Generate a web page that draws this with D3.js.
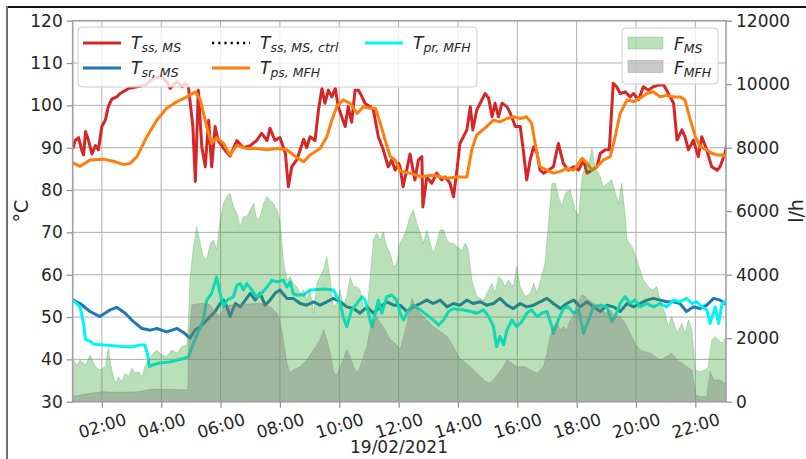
<!DOCTYPE html>
<html>
<head>
<meta charset="utf-8">
<script src="https://cdn.jsdelivr.net/npm/d3@7"></script>
<style>
  body { margin: 0; background: #fff; }
  svg text { font-family: "DejaVu Sans", sans-serif; fill: #262626; }
</style>
</head>
<body>
<svg id="chart" width="806" height="459"></svg>
<script>
// Each series: [minute of the day, value] on 19/02/2021.
// Supply temperature, main station (°C)
const tssMS = [[56,90.1],[62,90],[66,91.7],[73,92.4],[79,89.5],[83,88.3],[87,93.8],[93,91.7],[100,88.5],[107,90.5],[113,89.5],[120,95],[127,96.5],[133,99.7],[140,101.5],[150,102],[157,102.8],[174,104],[191,104.4],[207,104.8],[224,106.4],[241,106.8],[251,105.6],[258,104],[272,105.6],[282,104.4],[288,105.2],[295,104.4],[304,95],[309,82],[315,103.6],[322,90.3],[329,85.5],[336,96.5],[342,85.5],[349,95],[355,91.7],[365,90],[379,88],[393,91.7],[406,90],[420,90.5],[433,91.7],[443,93.4],[454,91.7],[460,94.6],[470,91.7],[480,92.4],[491,88.7],[497,80.8],[504,85.5],[514,87.1],[521,89.5],[528,92],[534,90],[541,92.6],[551,91.7],[558,98.9],[565,104],[571,100.5],[578,103.6],[585,102],[592,104],[598,99.7],[605,97.3],[612,95],[618,99.7],[625,96],[632,103.6],[639,103.6],[646,102],[652,100.5],[662,99.7],[669,98.9],[679,92.6],[689,89.5],[699,85.5],[706,87.1],[713,84.7],[720,86.3],[723,85.5],[729,80.8],[736,84.5],[743,88.5],[753,82.4],[760,87.1],[767,87.9],[769,76],[777,83.1],[787,81.6],[797,84],[807,82.4],[814,83.1],[824,81.6],[831,78.4],[838,84.7],[844,91],[851,92.6],[858,94.2],[865,99.7],[870,94.2],[878,98.9],[885,100.5],[895,102.8],[902,101.7],[909,97.3],[915,100.5],[922,97.3],[929,100.5],[939,99.7],[946,98.1],[956,95],[966,95],[972,89.5],[979,82.4],[986,87.1],[993,90.2],[1000,88.7],[1006,84.7],[1013,84],[1023,84.7],[1033,85.5],[1043,91],[1053,86.3],[1063,84.7],[1074,85.5],[1084,84.7],[1094,87.1],[1101,84],[1111,84.7],[1121,85.5],[1128,88.7],[1138,89.5],[1146,89.5],[1154,105.2],[1161,104.4],[1168,102.8],[1178,103.2],[1188,102],[1195,102.8],[1205,101.3],[1215,104.4],[1225,103.6],[1235,104.4],[1245,104.8],[1256,104.8],[1262,103.6],[1269,102],[1276,100.5],[1283,91.8],[1293,94.2],[1299,92.6],[1306,89.5],[1316,91.8],[1326,87.9],[1333,92.6],[1343,89.5],[1353,85.5],[1364,84.7],[1370,85.5],[1380,88.7],[1387,92.6]];

// Return temperature, main station (°C)
const tsrMS = [[56,54.4],[76,53.2],[96,51.3],[116,50.1],[137,51.7],[150,52.3],[167,50.9],[184,48.9],[201,47.3],[218,46.9],[231,47.3],[251,46.5],[272,47.3],[288,46.1],[298,45],[309,47],[319,47.7],[329,48.9],[339,50.1],[349,51.3],[359,53.2],[366,54],[373,52.4],[379,50.1],[390,53.2],[400,52.4],[410,54],[420,55.6],[430,54],[440,55.6],[450,52.8],[460,54],[470,55.6],[480,56.4],[494,54.4],[507,54.4],[521,53.2],[534,52.8],[548,53.6],[561,52.8],[575,53.6],[588,54.4],[602,53.6],[615,52.4],[629,52],[642,50.9],[656,52.4],[669,50.9],[683,52.4],[696,53.6],[710,52.8],[723,52.8],[737,51.3],[750,52.4],[764,53.2],[777,54],[790,53.2],[804,54],[818,52.4],[831,53.2],[844,52.8],[858,54],[871,53.2],[885,53.6],[898,52.8],[912,53.2],[925,54.4],[939,52.8],[952,52],[966,53.2],[979,52.4],[993,52.8],[1006,53.6],[1020,54.4],[1033,53.2],[1047,52],[1060,53.2],[1074,54],[1087,52.4],[1101,53.6],[1114,52.4],[1128,51.3],[1141,52.8],[1155,52.4],[1168,51.3],[1182,53.2],[1195,52.4],[1208,53.2],[1222,54],[1235,54.4],[1249,54],[1262,53.6],[1276,53.6],[1289,53.2],[1302,51.3],[1316,52.4],[1330,52],[1343,52.8],[1357,54.4],[1370,54],[1384,52.8]];

// Primary supply temperature, MFH substation (°C)
const tpsMFH = [[56,86.7],[76,85.6],[96,87.1],[123,87.3],[143,86.8],[164,86],[177,86.3],[191,87.9],[211,92.6],[231,96.5],[251,99.3],[272,100.9],[292,102],[309,103.2],[319,101.3],[332,95],[342,91],[352,92.4],[366,91],[379,88.3],[393,90.6],[413,89.8],[433,89.8],[454,89.5],[474,89.8],[494,89.5],[514,87.7],[528,86.7],[541,88.3],[561,89.8],[575,92.6],[585,96.5],[595,99.7],[608,101.3],[622,100.5],[636,98.1],[649,99.7],[662,99.3],[673,99.3],[683,95.8],[693,91.7],[703,87.9],[713,87.1],[723,84.5],[743,84],[764,83.2],[790,83.5],[818,82.8],[838,83.1],[858,83.1],[868,89.5],[878,93],[898,95],[912,96.5],[925,96.1],[939,96.9],[952,97.3],[966,96.9],[979,97.3],[989,95.8],[996,91],[1006,85.5],[1020,84.7],[1033,84],[1047,84.4],[1060,85.1],[1074,84.7],[1091,87.5],[1101,86.3],[1111,84.7],[1121,85.5],[1134,87.1],[1148,87.9],[1158,92.6],[1168,98.1],[1182,101.3],[1195,100.9],[1208,101.7],[1222,102.8],[1235,103.2],[1249,102],[1262,102.4],[1276,102],[1289,102],[1299,101.3],[1310,96.5],[1320,92.6],[1330,90.2],[1343,89.5],[1353,88.7],[1364,88.3],[1377,88.3],[1387,87.1]];

// Primary return temperature, MFH substation (°C)
const tprMFH = [[56,54],[66,53.5],[76,52.4],[83,48.5],[87,44.6],[96,44.3],[103,43.6],[123,43.4],[143,43.2],[164,43],[184,43],[197,43.4],[207,43.4],[212,41.4],[216,38.3],[221,38.6],[238,39.2],[258,39.4],[272,39.8],[285,40.2],[295,40.6],[305,43.8],[315,46.5],[325,49.3],[332,54],[342,55.6],[352,59.5],[359,55.6],[366,52.4],[373,54],[386,54.8],[393,57.5],[400,57.9],[406,56.4],[413,57.9],[423,56.4],[433,54.8],[443,55.6],[454,57.1],[464,58.7],[474,58.3],[487,58.7],[494,57.1],[501,58.3],[507,55.5],[514,55.2],[528,55.2],[541,56.4],[568,56.6],[588,56.4],[595,54.8],[602,53.2],[608,50.1],[615,47.7],[625,51.7],[636,53.2],[646,54.8],[652,54],[659,50.9],[666,47.7],[673,50.9],[679,54],[686,50.9],[696,54.8],[706,55.2],[716,54],[723,50.9],[730,49.3],[740,51.7],[750,52.8],[764,51.7],[777,50.5],[790,49.3],[801,48.1],[811,49.3],[821,51.3],[831,52],[841,51.7],[851,51.7],[865,51.3],[878,50.9],[892,51.7],[902,50.1],[912,47.7],[918,43],[925,45.4],[932,43.4],[939,46.9],[949,49.3],[959,47.7],[969,48.9],[979,50.9],[989,51.7],[1000,50.1],[1009,50.9],[1020,51.3],[1030,47.7],[1033,46.1],[1043,49.3],[1053,52],[1063,52.4],[1074,50.9],[1084,51.7],[1094,46.1],[1104,49.3],[1114,52.4],[1128,52.8],[1141,52.4],[1151,48.9],[1158,50.1],[1168,53.2],[1178,54.8],[1188,53.2],[1198,54],[1208,52.4],[1222,53.2],[1235,52.4],[1249,53.2],[1262,52.4],[1276,54],[1289,53.6],[1302,54.4],[1313,53.2],[1323,53.6],[1333,52.4],[1343,51.7],[1350,48.5],[1360,52.4],[1367,48.5],[1374,53.2],[1384,54]];

// Flow, main station (l/h)
const fMS = [[56,1200],[62,1313],[69,1155],[76,1313],[87,1155],[96,1471],[107,1103],[116,1000],[127,1103],[133,1682],[140,1000],[147,580],[154,788],[160,630],[167,895],[174,790],[181,1052],[187,895],[194,950],[201,790],[207,1103],[214,1313],[224,1523],[231,1628],[241,1470],[251,1418],[261,1628],[272,1523],[282,1733],[292,1785],[295,2500],[298,3833],[305,4883],[312,5513],[319,4990],[325,4568],[332,4463],[339,4990],[346,5094],[352,4778],[359,5724],[366,6250],[373,6460],[379,6565],[386,6145],[393,5933],[400,5513],[406,5828],[413,5828],[420,6040],[427,6250],[433,5724],[440,5828],[447,6250],[454,6458],[460,6355],[467,6250],[474,6040],[480,5724],[487,4463],[494,3833],[501,3938],[507,3728],[514,3623],[521,3413],[528,3518],[534,3203],[541,3518],[548,2785],[555,3728],[561,3938],[568,4148],[575,4568],[582,3833],[588,2995],[595,3100],[602,3518],[608,2995],[615,3308],[622,3938],[629,3623],[636,3623],[642,3518],[649,2995],[656,2890],[662,3833],[669,5094],[676,5304],[683,5094],[689,5355],[696,4883],[703,4673],[710,4253],[716,4358],[723,5000],[733,5300],[743,5828],[750,6039],[757,5620],[764,5304],[770,4990],[777,5409],[784,4990],[790,4675],[797,5000],[804,5409],[811,5409],[818,5094],[824,4990],[831,4990],[838,4883],[848,4778],[855,4990],[861,4778],[868,3833],[878,3308],[892,3203],[902,3518],[909,3728],[915,3413],[922,3938],[929,3833],[935,3623],[942,3833],[952,3623],[959,4253],[966,3623],[976,3308],[986,3413],[993,3728],[1000,3413],[1009,3938],[1016,4358],[1023,5618],[1030,6880],[1037,6880],[1043,6458],[1050,6145],[1057,6565],[1067,6670],[1077,6040],[1084,5830],[1091,7088],[1097,7403],[1104,7450],[1111,7982],[1117,7403],[1128,7088],[1134,6773],[1144,6900],[1151,6990],[1158,6565],[1165,6250],[1171,6880],[1176,6200],[1182,5094],[1192,4883],[1202,4463],[1208,4149],[1215,3833],[1225,3623],[1233,3520],[1242,3623],[1249,3203],[1259,2785],[1265,2363],[1272,2680],[1283,2155],[1293,2470],[1299,2155],[1306,2575],[1313,2260],[1320,1000],[1330,945],[1340,1000],[1346,1103],[1353,1944],[1360,2050],[1367,1944],[1374,1840],[1380,1995],[1386,1900]];

// Flow, MFH substation (l/h)
const fMFH = [[56,158],[76,210],[96,264],[123,316],[154,290],[194,316],[218,390],[258,390],[292,369],[294,369],[295,1733],[302,3046],[312,3077],[325,3100],[339,3046],[352,2785],[359,2678],[366,2965],[379,3046],[393,3046],[406,3077],[420,3077],[433,3100],[447,3077],[460,3000],[474,2785],[480,2575],[487,1944],[494,1210],[501,895],[507,1000],[521,1103],[534,1313],[548,1629],[561,1944],[568,2259],[575,1944],[582,1523],[588,945],[595,841],[602,1103],[608,1313],[615,1629],[622,1418],[629,1103],[636,895],[642,1103],[649,1418],[656,1733],[662,2259],[669,2470],[676,2680],[683,2470],[689,2365],[696,2155],[703,1944],[713,1838],[723,1629],[737,2470],[747,3257],[753,3000],[764,2785],[777,2575],[790,2363],[804,2208],[818,2050],[831,1733],[841,1418],[848,1313],[865,1103],[878,895],[892,684],[902,580],[912,684],[922,895],[932,1103],[939,1313],[949,1208],[959,1103],[976,1103],[986,1000],[1000,895],[1013,1103],[1020,1523],[1026,2049],[1033,2365],[1040,2470],[1047,2259],[1053,2365],[1060,2259],[1067,2575],[1074,2680],[1080,3100],[1091,3361],[1097,3308],[1104,3203],[1114,3100],[1128,2995],[1138,2785],[1148,2890],[1158,2680],[1168,2680],[1178,2470],[1188,2155],[1198,1838],[1208,1629],[1218,1576],[1229,1523],[1239,1418],[1249,1313],[1262,1418],[1272,1523],[1283,1313],[1293,1208],[1302,1103],[1313,1000],[1320,211],[1330,158],[1343,158],[1350,945],[1357,684],[1370,684],[1380,580],[1387,580]];

const timeSpan = ["01:01", "23:02"];
const timeTicks = ["02:00","04:00","06:00","08:00","10:00","12:00","14:00","16:00","18:00","20:00","22:00"];
const tempTicks = [30, 40, 50, 60, 70, 80, 90, 100, 110, 120];
const flowTicks = [0, 2000, 4000, 6000, 8000, 10000, 12000];
const dateLabel = "19/02/2021";

const lineLegend = [
  { key: "tss",  base: "T", sub: "ss, MS" },
  { key: "tsr",  base: "T", sub: "sr, MS" },
  { key: "ctrl", base: "T", sub: "ss, MS, ctrl" },
  { key: "tps",  base: "T", sub: "ps, MFH" },
  { key: "tpr",  base: "T", sub: "pr, MFH" }
];
const areaLegend = [
  { key: "fms",  base: "F", sub: "MS" },
  { key: "fmfh", base: "F", sub: "MFH" }
];

// ---- drawing ----
const style = {
  tss:  { stroke: "#d62728" },
  tsr:  { stroke: "#1f77b4" },
  ctrl: { stroke: "#000000", dash: "2.2,4" },
  tps:  { stroke: "#ff7f0e" },
  tpr:  { stroke: "#00f5f5" },
  fms:  { fill: "#2ca02c", alpha: 0.33 },
  fmfh: { fill: "#7f7f7f", alpha: 0.42 }
};

const svg = d3.select("#chart");
const plot = { left: 72.7, right: 726, top: 20.7, bottom: 401.7 };

const parseClock = d3.timeParse("%Y-%m-%d %H:%M");
const clock = s => parseClock("2021-02-19 " + s);
const atMinute = m => new Date(2021, 1, 19, 0, m);

const x = d3.scaleTime().domain(timeSpan.map(clock)).range([plot.left, plot.right]);
const yT = d3.scaleLinear().domain([30, 120]).range([plot.bottom, plot.top]);
const yF = d3.scaleLinear().domain([0, 12000]).range([plot.bottom, plot.top]);

// outer frame
svg.append("line").attr("x1", 7).attr("x2", 806).attr("y1", 7).attr("y2", 7)
  .attr("stroke", "#111").attr("stroke-width", 2);
svg.append("line").attr("x1", 7).attr("x2", 7).attr("y1", 6).attr("y2", 459)
  .attr("stroke", "#6e6e6e").attr("stroke-width", 2);

svg.append("defs").append("clipPath").attr("id", "plotClip")
  .append("rect").attr("x", plot.left).attr("y", plot.top)
  .attr("width", plot.right - plot.left).attr("height", plot.bottom - plot.top);

// grid
const grid = svg.append("g").attr("stroke", "#b0b0b0").attr("stroke-width", 1);
grid.selectAll(".gy").data(tempTicks).join("line")
  .attr("x1", plot.left).attr("x2", plot.right)
  .attr("y1", d => yT(d)).attr("y2", d => yT(d));
grid.selectAll(".gx").data(timeTicks).join("line")
  .attr("x1", d => x(clock(d))).attr("x2", d => x(clock(d)))
  .attr("y1", plot.top).attr("y2", plot.bottom);

// temperature lines
const lineGen = d3.line().x(d => x(atMinute(d[0]))).y(d => yT(d[1]));
const lines = svg.append("g").attr("clip-path", "url(#plotClip)");
[["tss", tssMS], ["tsr", tsrMS], ["tps", tpsMFH], ["tpr", tprMFH]].forEach(([k, data]) => {
  lines.append("path").datum(data)
    .attr("d", lineGen)
    .attr("fill", "none")
    .attr("stroke", style[k].stroke)
    .attr("stroke-width", 3)
    .attr("stroke-linejoin", "round")
    .attr("stroke-linecap", "square");
});

// flow areas on the secondary axis
const areaGen = d3.area().x(d => x(atMinute(d[0]))).y0(yF(0)).y1(d => yF(d[1]));
const areas = svg.append("g").attr("clip-path", "url(#plotClip)");
[["fms", fMS], ["fmfh", fMFH]].forEach(([k, data]) => {
  areas.append("path").datum(data)
    .attr("d", areaGen)
    .attr("fill", style[k].fill).attr("fill-opacity", style[k].alpha)
    .attr("stroke", style[k].fill).attr("stroke-opacity", style[k].alpha * 0.8)
    .attr("stroke-width", 1);
});

// axes
function styleAxis(g) {
  g.select(".domain").remove();
  g.selectAll(".tick line").attr("stroke", "#8c8c8c").attr("stroke-width", 1.2);
  g.selectAll(".tick text").style("font-size", "17px").attr("fill", "#262626");
}
svg.append("g").attr("transform", `translate(${plot.left},0)`)
  .call(d3.axisLeft(yT).tickValues(tempTicks).tickSize(6).tickPadding(4))
  .call(styleAxis);
svg.append("g").attr("transform", `translate(${plot.right},0)`)
  .call(d3.axisRight(yF).tickValues(flowTicks).tickFormat(d3.format("d")).tickSize(6).tickPadding(4))
  .call(styleAxis);
const xAxis = svg.append("g").attr("transform", `translate(0,${plot.bottom})`)
  .call(d3.axisBottom(x).tickValues(timeTicks.map(clock)).tickFormat(d3.timeFormat("%H:%M")).tickSize(6))
  .call(styleAxis);
xAxis.selectAll(".tick text")
  .attr("y", 0).attr("dy", null)
  .attr("text-anchor", "middle")
  .attr("dominant-baseline", "central")
  .attr("transform", "translate(0,24) rotate(-17)");

// spines
svg.append("rect")
  .attr("x", plot.left).attr("y", plot.top)
  .attr("width", plot.right - plot.left).attr("height", plot.bottom - plot.top)
  .attr("fill", "none").attr("stroke", "#a0a0a0").attr("stroke-width", 1.6);

// axis titles
svg.append("text").attr("transform", "translate(28,211) rotate(-90)")
  .attr("text-anchor", "middle").style("font-size", "19px").text("°C");
svg.append("text").attr("transform", "translate(803,211) rotate(-90)")
  .attr("text-anchor", "middle").style("font-size", "19px").text("l/h");
svg.append("text").attr("x", 399).attr("y", 453)
  .attr("text-anchor", "middle").style("font-size", "17px").text(dateLabel);

// legends
function label(g, item, tx, ty) {
  const t = g.append("text").attr("x", tx).attr("y", ty)
    .style("font-style", "italic").style("font-size", "17px");
  t.append("tspan").text(item.base);
  t.append("tspan").attr("dy", 3).style("font-size", "12.5px").text(item.sub);
}
function box(x0, y0, w, h) {
  svg.append("rect").attr("x", x0).attr("y", y0).attr("width", w).attr("height", h)
    .attr("rx", 4).attr("fill", "#fff").attr("fill-opacity", 0.8)
    .attr("stroke", "#cccccc").attr("stroke-width", 1);
}

box(78, 27, 399, 60);
const lg = svg.append("g");
const slots = [
  { lx: 83, tx: 131, ty: 49 }, { lx: 83, tx: 131, ty: 74 },
  { lx: 212, tx: 260, ty: 49 }, { lx: 212, tx: 260, ty: 74 },
  { lx: 365, tx: 413, ty: 49 }
];
lineLegend.forEach((item, i) => {
  const s = slots[i], st = style[item.key];
  lg.append("line").attr("x1", s.lx).attr("x2", s.lx + 38)
    .attr("y1", s.ty - 6).attr("y2", s.ty - 6)
    .attr("stroke", st.stroke).attr("stroke-width", st.dash ? 2.6 : 3.2)
    .attr("stroke-dasharray", st.dash || null);
  label(lg, item, s.tx, s.ty);
});

box(622, 28, 96, 56);
const ag = svg.append("g");
areaLegend.forEach((item, i) => {
  const ty = 50 + i * 23.5, st = style[item.key];
  ag.append("rect").attr("x", 628).attr("y", ty - 13).attr("width", 35).attr("height", 12)
    .attr("fill", st.fill).attr("fill-opacity", st.alpha)
    .attr("stroke", st.fill).attr("stroke-opacity", st.alpha * 0.8);
  label(ag, item, 674, ty);
});
</script>
</body>
</html>
